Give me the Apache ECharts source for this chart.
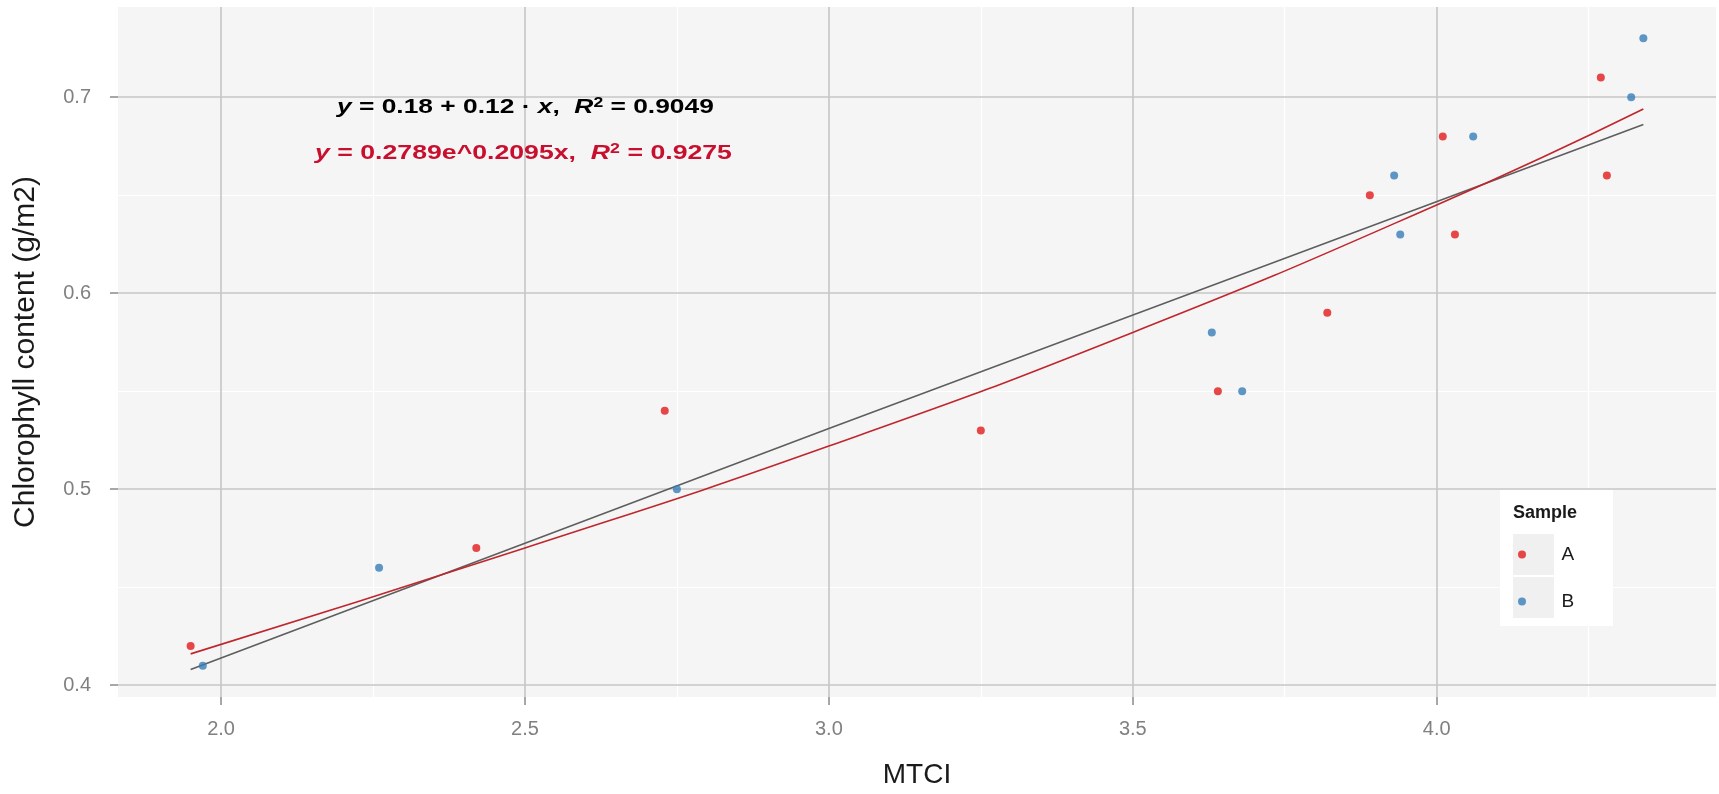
<!DOCTYPE html>
<html><head><meta charset="utf-8">
<script src="https://cdn.jsdelivr.net/npm/echarts@6/dist/echarts.min.js"></script>
<style>html,body{margin:0;padding:0;background:#fff}#c{width:1719px;height:794px}</style>
</head><body><div id="c"></div>
<script>
// ---- data ----
const sampleA_x = [1.95, 2.42, 2.73, 3.25, 3.64, 3.82, 3.89, 4.01, 4.03, 4.27, 4.28];
const sampleA_y = [0.42, 0.47, 0.54, 0.53, 0.55, 0.59, 0.65, 0.68, 0.63, 0.71, 0.66];
const sampleB_x = [1.97, 2.26, 2.75, 3.63, 3.68, 3.93, 3.94, 4.06, 4.32, 4.34];
const sampleB_y = [0.41, 0.46, 0.50, 0.58, 0.55, 0.66, 0.63, 0.68, 0.70, 0.73];
const linFit_x = [1.95, 3.00, 4.34];
const linFit_y = [0.408, 0.531, 0.686];
const expFit_x = [1.95, 2.50, 3.00, 3.50, 4.00, 4.34];
const expFit_y = [0.416, 0.470, 0.522, 0.580, 0.645, 0.694];
const xTicks = [2.0, 2.5, 3.0, 3.5, 4.0];
const xMinor = [2.25, 2.75, 3.25, 3.75, 4.25];
const yTicks = [0.4, 0.5, 0.6, 0.7];
const yMinor = [0.45, 0.55, 0.65];
const xRange = [1.8305, 4.4595];
const yRange = [0.394, 0.746];
const seriesNames = ['A', 'B'];
const eqLinear = '{i|y}{n| = 0.18 + 0.12 · }{i|x}{n|,  }{i|R}{s|2}{n| = 0.9049}';
const eqExp = '{i|y}{n| = 0.2789e^0.2095x,  }{i|R}{s|2}{n| = 0.9275}';

const zip = (xs, ys) => xs.map((x, i) => [x, ys[i]]);
const FONT = "'Liberation Sans', Arial, sans-serif";

function richStyle(color) {
  const base = { fontSize: 21, fontWeight: 'bold', fontFamily: FONT, fill: color };
  return {
    n: Object.assign({}, base),
    i: Object.assign({ fontStyle: 'italic' }, base),
    s: Object.assign({}, base, { fontSize: 14, verticalAlign: 'top' })
  };
}

const chart = echarts.init(document.getElementById('c'), null, { renderer: 'canvas' });
const option = {
  animation: false,
  backgroundColor: '#ffffff',
  grid: { left: 118, right: 3, top: 7, bottom: 97, show: true, backgroundColor: '#f5f5f5', borderWidth: 0 },
  legend: {
    data: seriesNames, orient: 'vertical', left: 1513, top: 540, z: 40, zlevel: 0,
    itemWidth: 41, itemHeight: 8, itemGap: 28, icon: 'circle',
    textStyle: { fontSize: 19, color: '#1a1a1a', fontFamily: FONT, padding: [3, 0, 0, 14] }
  },
  xAxis: [
    {
      type: 'value', min: xRange[0], max: xRange[1], z: 1,
      axisLine: { show: false },
      axisTick: { show: true, customValues: xTicks, length: 8, lineStyle: { color: '#8a8a8a', width: 1.5 } },
      axisLabel: { customValues: xTicks, formatter: v => v.toFixed(1), color: '#808080', fontSize: 20, margin: 22, fontFamily: FONT },
      splitLine: { show: true, lineStyle: { color: '#c6c6c6', width: 1.6 } },
      name: 'MTCI', nameLocation: 'middle', nameGap: 64,
      nameTextStyle: { fontSize: 28, color: '#1a1a1a', fontFamily: FONT }
    },
    {
      type: 'value', min: xRange[0], max: xRange[1], z: 0,
      axisLine: { show: false },
      axisTick: { show: false, customValues: xMinor },
      axisLabel: { show: false, customValues: xMinor },
      splitLine: { show: true, lineStyle: { color: '#ffffff', width: 1.2 } }
    }
  ],
  yAxis: [
    {
      type: 'value', min: yRange[0], max: yRange[1], z: 1,
      axisLine: { show: false },
      axisTick: { show: true, customValues: yTicks, length: 8, lineStyle: { color: '#8a8a8a', width: 1.5 } },
      axisLabel: { customValues: yTicks, formatter: v => v.toFixed(1), color: '#808080', fontSize: 20, margin: 27, fontFamily: FONT },
      splitLine: { show: true, lineStyle: { color: '#c6c6c6', width: 1.6 } },
      name: 'Chlorophyll content (g/m2)', nameLocation: 'middle', nameGap: 77, nameRotate: 90,
      nameTextStyle: { fontSize: 30, color: '#1a1a1a', fontFamily: FONT }
    },
    {
      type: 'value', min: yRange[0], max: yRange[1], z: 0,
      axisLine: { show: false },
      axisTick: { show: false, customValues: yMinor },
      axisLabel: { show: false, customValues: yMinor },
      splitLine: { show: true, lineStyle: { color: '#ffffff', width: 1.2 } }
    }
  ],
  graphic: [
    { type: 'rect', shape: { x: 1500, y: 490, width: 113, height: 136 }, style: { fill: '#ffffff' }, z: 10 },
    { type: 'rect', shape: { x: 1513, y: 534, width: 41, height: 41 }, style: { fill: '#f0f0f0' }, z: 11 },
    { type: 'rect', shape: { x: 1513, y: 577, width: 41, height: 41 }, style: { fill: '#f0f0f0' }, z: 11 },
    { type: 'text', x: 1513, y: 513, z: 12, style: { text: 'Sample', font: "bold 18px 'Liberation Sans', Arial, sans-serif", fill: '#1a1a1a', verticalAlign: 'middle', align: 'left' } },
    { type: 'text', x: 337, y: 107, scaleX: 1.255, z: 12, style: { text: eqLinear, rich: richStyle('#000000'), verticalAlign: 'middle', align: 'left' } },
    { type: 'text', x: 315, y: 153, scaleX: 1.27, z: 12, style: { text: eqExp, rich: richStyle('#c8102e'), verticalAlign: 'middle', align: 'left' } }
  ],
  series: [
    { name: 'lin', type: 'line', xAxisIndex: 0, yAxisIndex: 0, data: zip(linFit_x, linFit_y), showSymbol: false, symbol: 'none', lineStyle: { color: '#5e5e5e', width: 1.6 }, z: 3, silent: true },
    { name: 'exp', type: 'line', xAxisIndex: 0, yAxisIndex: 0, data: zip(expFit_x, expFit_y), smooth: true, showSymbol: false, symbol: 'none', lineStyle: { color: '#c0262d', width: 1.6 }, z: 3, silent: true },
    { name: 'A', type: 'scatter', xAxisIndex: 0, yAxisIndex: 0, data: zip(sampleA_x, sampleA_y), symbolSize: 8, itemStyle: { color: '#e41a1c' }, z: 5 },
    { name: 'B', type: 'scatter', xAxisIndex: 0, yAxisIndex: 0, data: zip(sampleB_x, sampleB_y), symbolSize: 8, itemStyle: { color: '#377eb8' }, z: 5 }
  ]
};
chart.setOption(option);
</script>
</body></html>
